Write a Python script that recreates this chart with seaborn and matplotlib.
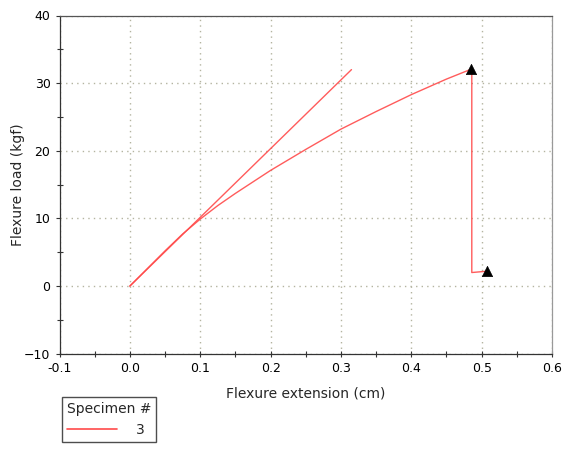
import matplotlib.pyplot as plt
import numpy as np
import pandas as pd
import seaborn as sns
from matplotlib.lines import Line2D
from matplotlib.ticker import MultipleLocator

# specimen 3 load-extension curve (cm, kgf)
EXT_CM = [0.0, 0.025, 0.05, 0.075, 0.10, 0.125, 0.15, 0.175, 0.20, 0.25,
          0.30, 0.35, 0.40, 0.45, 0.486, 0.486, 0.508]
LOAD_KGF = [0.0, 2.6, 5.2, 7.7, 9.9, 11.9, 13.7, 15.4, 17.1, 20.2,
            23.2, 25.8, 28.3, 30.6, 32.1, 2.0, 2.2]

# straight modulus line
MOD_EXT = [0.0, 0.315]
MOD_LOAD = [0.0, 32.0]

# break markers
MARK_EXT = [0.485, 0.508]
MARK_LOAD = [32.1, 2.2]

SPECIMEN = "3"
RED = "#ff4a4a"
GRID = "#b4b4a0"

sns.set_style("white")
plt.rcParams["font.family"] = ["DejaVu Sans"]

fig = plt.figure(figsize=(5.65, 4.59), dpi=100)
ax = fig.add_axes([59.5 / 565, 1 - 353.7 / 459, (552 - 59.5) / 565, (353.7 - 15.5) / 459])

curve = pd.DataFrame({"ext": EXT_CM, "load": LOAD_KGF})
sns.lineplot(data=curve, x="ext", y="load", sort=False, color=RED, lw=1.0,
             alpha=0.9, ax=ax, estimator=None)
sns.lineplot(x=MOD_EXT, y=MOD_LOAD, color=RED, lw=1.0, alpha=0.9, ax=ax,
             estimator=None)
sns.scatterplot(x=MARK_EXT, y=MARK_LOAD, marker="^", color="black", s=55,
                edgecolor="black", linewidth=0.5, ax=ax, zorder=5)

ax.set_xlim(-0.1, 0.6)
ax.set_ylim(-10, 40)
ax.xaxis.set_major_locator(MultipleLocator(0.1))
ax.xaxis.set_minor_locator(MultipleLocator(0.05))
ax.yaxis.set_major_locator(MultipleLocator(10))
ax.yaxis.set_minor_locator(MultipleLocator(5))
ax.set_xticklabels([f"{v:.1f}" for v in ax.get_xticks()])
ax.tick_params(which="both", direction="inout", length=5, width=0.8,
               colors="#333333", labelsize=9, labelcolor="black",
               bottom=True, left=True)
ax.tick_params(axis="y", which="major", length=3, direction="out")
ax.tick_params(axis="x", which="major", length=5)
ax.grid(True, which="major", linestyle=(0, (1, 3)), color=GRID, lw=1.0)

for side in ["top", "right", "bottom", "left"]:
    ax.spines[side].set_visible(True)
    ax.spines[side].set_linewidth(0.9)
ax.spines["left"].set_color("#333333")
ax.spines["bottom"].set_color("#333333")
ax.spines["top"].set_color("#555555")
ax.spines["right"].set_color("#999999")

ax.set_xlabel("Flexure extension (cm)", fontsize=10, labelpad=8)
ax.set_ylabel("Flexure load (kgf)", fontsize=10)
ax.yaxis.set_label_coords(-0.07, 0.5)

handle = Line2D([], [], color=RED, lw=1.2)
leg = fig.legend([handle], [SPECIMEN], title="Specimen #", loc="upper left",
                 bbox_to_anchor=(62 / 565, 1 - 397 / 459), frameon=True,
                 fancybox=False, edgecolor="#222222", fontsize=10,
                 title_fontsize=10, handlelength=3.6, handletextpad=1.4,
                 borderpad=0.35, borderaxespad=0)
leg._legend_box.align = "left"
leg.get_frame().set_linewidth(1.0)

fig.savefig("out.png", dpi=100)
